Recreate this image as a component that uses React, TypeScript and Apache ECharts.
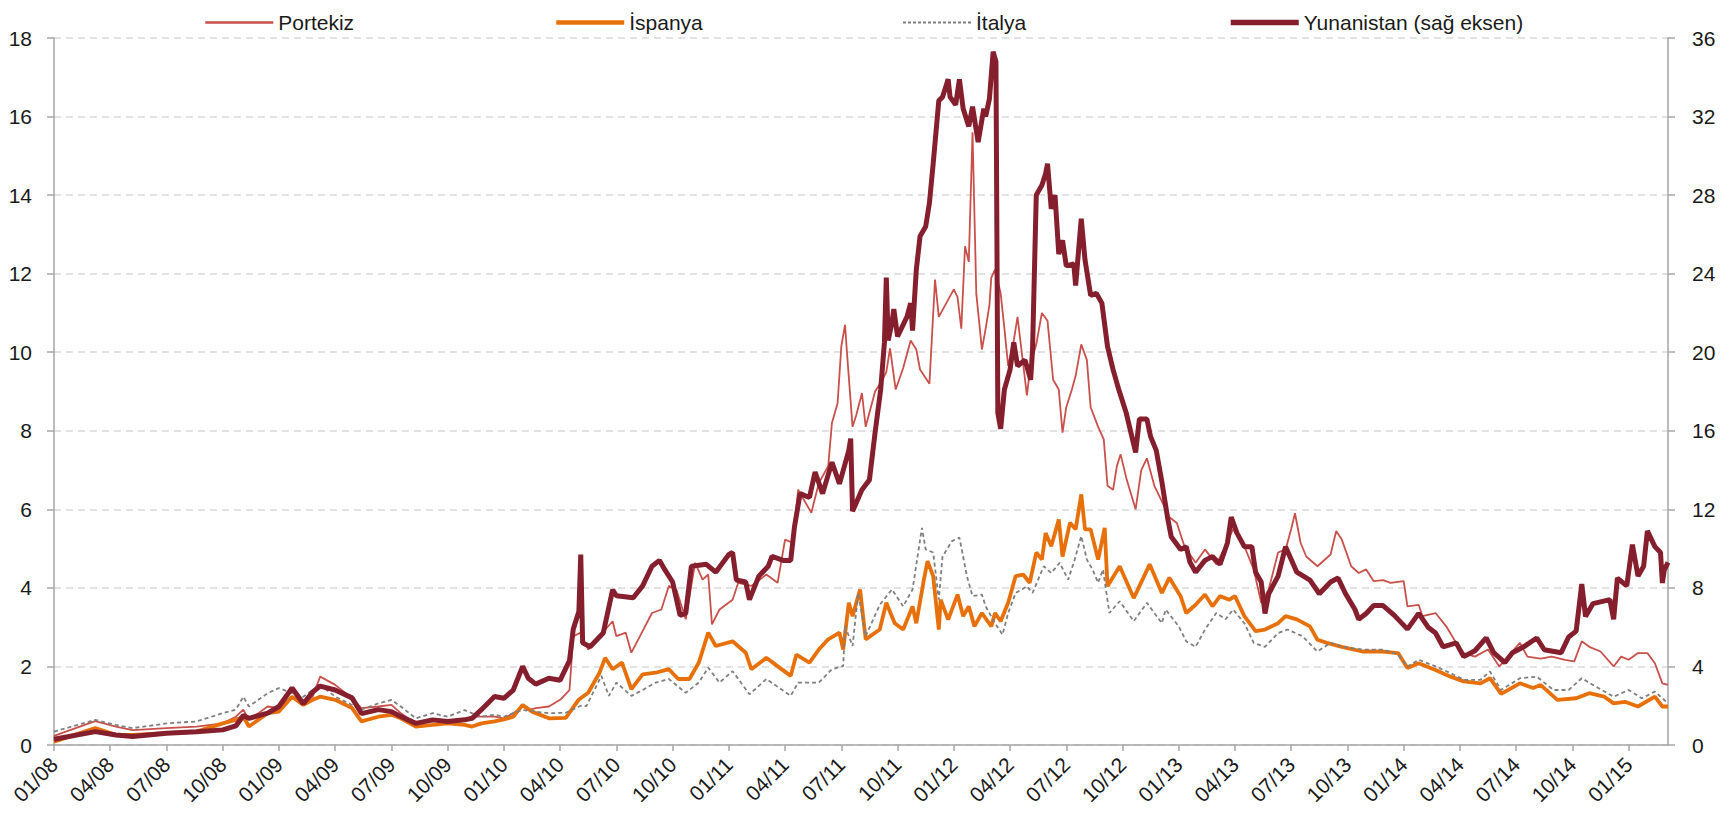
import React, { useEffect, useRef } from "react";
import * as echarts from "echarts";

// x positions are months since January 2008
const xTickLabels = ["01/08","04/08","07/08","10/08","01/09","04/09","07/09","10/09","01/10","04/10","07/10","10/10","01/11","04/11","07/11","10/11","01/12","04/12","07/12","10/12","01/13","04/13","07/13","10/13","01/14","04/14","07/14","10/14","01/15"];

const ptT = [0,2.2,3.3,4.2,6,7.6,9,9.7,10.1,10.4,11.4,12,12.7,13.3,13.8,14.2,15,15.9,16.4,17.3,18,18.5,19.3,20.2,21,21.9,22.3,22.8,23.5,24,24.5,25,25.3,25.7,26.4,27,27.5,27.7,28.1,28.5,29.1,29.8,30,30.5,30.8,31.4,31.9,32.4,32.8,33.2,33.7,34.2,34.6,34.9,35.1,35.5,36.2,36.5,37.2,38,38.6,39,39.4,39.7,40.4,40.8,41.3,41.5,41.8,42,42.2,42.3,42.6,42.8,43.1,43.3,43.8,44.2,44.4,44.6,44.9,45.3,45.7,46,46.2,46.7,47,47.2,47.6,48,48.2,48.4,48.6,48.8,49,49.2,49.5,49.7,49.9,50,50.2,50.5,50.7,50.9,51.2,51.4,51.7,51.9,52.1,52.4,52.7,53,53.3,53.6,53.8,54,54.3,54.5,54.8,55.1,55.3,55.7,56,56.2,56.5,56.7,56.9,57.2,57.7,58,58.3,58.7,59.1,59.5,59.9,60.3,60.9,61.4,62,62.5,62.9,63.5,64,64.4,64.8,65.3,65.7,66,66.2,66.5,66.8,67.4,68.1,68.4,68.7,69.2,69.6,70,70.4,70.9,71.3,72,72.2,72.8,73,73.7,74.3,74.8,75.2,75.8,76.5,77.1,78.2,78.6,79.3,79.9,80.6,81.1,81.5,81.9,82.5,83.2,83.6,84,84.5,85,85.4,85.8,86.1];
const ptV = [0.23,0.61,0.47,0.38,0.43,0.47,0.55,0.72,0.9,0.64,0.98,0.94,1.23,1.1,1.23,1.74,1.53,1.19,0.94,0.98,1.02,0.81,0.55,0.6,0.64,0.64,0.72,0.72,0.72,0.68,0.81,0.98,0.89,0.94,0.98,1.15,1.4,2.77,2.86,2.43,2.77,3.15,2.77,2.86,2.35,2.9,3.36,3.45,4.05,3.96,3.2,4.64,4.21,4.34,3.07,3.45,3.7,4.13,4.05,4.34,4.13,5.23,5.15,6.5,5.91,6.67,7.1,8.2,8.7,10.15,10.7,10.0,8.1,8.4,8.96,8.1,9.0,9.3,9.5,10.1,9.05,9.6,10.3,10.07,9.56,9.2,11.85,10.9,11.25,11.6,11.4,10.6,12.7,12.3,15.6,11.5,10.07,10.6,11.2,11.9,12.1,11.5,10.6,9.65,10.3,10.9,9.7,8.9,9.7,10.2,11.0,10.8,9.3,9.05,7.95,8.6,9.05,9.4,10.2,9.8,8.6,8.1,7.78,6.6,6.5,7.1,7.4,6.8,6.0,7.0,7.3,6.6,6.2,5.8,5.65,5.06,4.64,4.98,4.6,5.06,5.5,5.06,4.47,3.62,3.96,4.9,4.98,5.5,5.9,5.15,4.8,4.55,4.85,5.45,5.23,4.55,4.38,4.47,4.17,4.2,4.13,4.17,3.53,3.57,3.28,3.36,3.0,2.6,2.34,2.25,2.43,2.0,2.6,2.25,2.2,2.25,2.17,2.13,2.64,2.5,2.38,2.0,2.25,2.17,2.34,2.34,2.08,1.57,1.53];

const esT = [0,2.2,3.3,4.2,6,7.6,9,9.7,10.1,10.4,11.4,12,12.7,13.3,13.8,14.2,15,15.9,16.4,17.3,18,18.5,19.3,20.2,21,21.9,22.3,22.8,23.5,24,24.5,25,25.5,26.4,27.3,28,28.5,29.1,29.4,29.8,30.3,30.8,31.4,32.1,32.8,33.3,33.9,34.4,34.9,35.3,36.2,36.9,37.2,38,38.7,39.3,39.6,40.3,40.8,41.3,41.9,42.1,42.4,42.6,43,43.3,44.05,44.4,44.85,45.3,45.8,46,46.4,46.6,46.9,47.2,47.3,47.7,48.2,48.5,48.8,49.1,49.5,50,50.2,50.5,50.9,51.3,51.7,52.05,52.4,52.7,52.9,53.2,53.6,53.8,54.2,54.5,54.8,55,55.3,55.7,56.05,56.2,56.85,57.6,58.45,59.1,59.5,60.1,60.4,60.9,61.4,61.8,62.2,62.7,63,63.5,64.1,64.6,65.3,65.7,66.3,67,67.4,67.9,68.7,69.8,70.9,71.7,72.2,72.8,73.7,74.5,75.2,76.1,76.6,77.2,78.2,78.9,79.3,80.2,81.2,81.9,82.7,83.2,83.8,84.5,85.4,85.8,86.1];
const esV = [0.085,0.43,0.26,0.26,0.3,0.34,0.55,0.64,0.72,0.47,0.81,0.85,1.23,1.02,1.15,1.23,1.15,0.94,0.6,0.72,0.77,0.68,0.47,0.51,0.55,0.51,0.47,0.55,0.6,0.65,0.72,1.02,0.85,0.68,0.69,1.16,1.33,1.84,2.22,1.93,2.1,1.42,1.8,1.84,1.93,1.68,1.68,2.1,2.86,2.52,2.64,2.35,1.93,2.22,1.97,1.76,2.3,2.1,2.43,2.69,2.86,2.43,3.62,3.28,3.96,2.69,2.94,3.62,3.1,2.94,3.53,3.1,4.2,4.68,4.3,2.94,3.7,3.19,3.83,3.28,3.53,3.02,3.36,3.02,3.36,3.15,3.62,4.3,4.34,4.13,4.9,4.72,5.4,5.06,5.74,4.8,5.66,5.49,6.38,5.49,5.49,4.72,5.53,4.04,4.55,3.74,4.6,3.87,4.26,3.79,3.36,3.57,3.83,3.53,3.79,3.7,3.79,3.28,2.9,2.94,3.1,3.28,3.2,3.02,2.68,2.6,2.5,2.38,2.38,2.34,1.96,2.08,1.91,1.74,1.62,1.57,1.7,1.3,1.57,1.45,1.53,1.15,1.19,1.32,1.23,1.06,1.1,0.98,1.23,0.98,0.98];

const itT = [0,2.2,3.3,4.2,6,7.6,9,9.7,10.1,10.4,11.4,12,12.7,13.3,13.8,14.2,15,15.9,16.4,17.3,18,18.5,19.3,20.2,21,21.9,22.3,22.8,23.5,24,24.5,25,25.7,26.4,27.3,28.1,28.4,29.2,29.6,30,30.8,31.4,32.1,32.8,33.7,34.4,34.9,35.5,36.2,37.1,38,39.3,39.7,40.8,41.5,42.1,42.2,42.6,42.9,43.3,44.05,44.7,45.3,45.8,46.3,46.5,46.9,47.2,47.4,47.9,48.3,48.7,49,49.5,49.7,50.2,50.6,50.9,51.3,51.9,52.2,52.8,53.2,53.65,54.1,54.45,54.8,55.1,55.4,55.7,55.96,56.3,56.85,57.6,58.3,59.1,59.3,60,60.4,60.9,61.4,62,62.5,62.9,63.5,64,64.6,65.3,65.8,66.6,67.4,68.1,68.7,69.8,70.9,71.7,72.2,72.8,73.7,74.5,75.2,76.1,76.6,77.2,78.2,79.1,80,80.8,81.5,82.1,83.2,84,84.7,85.4,86.1];
const itV = [0.34,0.64,0.51,0.43,0.55,0.6,0.81,0.9,1.23,0.98,1.32,1.45,1.32,1.23,1.4,1.53,1.23,1.02,0.9,1.06,1.15,0.98,0.68,0.81,0.72,0.89,0.81,0.72,0.77,0.72,0.81,0.89,0.85,0.81,0.82,1.0,0.99,1.76,1.25,1.59,1.25,1.4,1.59,1.68,1.33,1.59,1.97,1.59,1.88,1.29,1.68,1.25,1.59,1.59,1.93,2.01,3.03,2.52,3.87,2.77,3.57,3.96,3.53,3.96,5.53,4.98,4.9,3.7,4.8,5.19,5.28,4.3,3.79,3.83,3.53,3.1,2.81,3.36,3.87,4.04,3.87,4.55,4.38,4.64,4.21,4.72,5.32,4.72,4.47,4.13,4.47,3.36,3.66,3.15,3.62,3.1,3.45,3.02,2.64,2.5,2.94,3.36,3.2,3.45,3.1,2.6,2.5,2.85,2.94,2.77,2.38,2.6,2.5,2.43,2.43,2.3,2.0,2.17,2.0,1.83,1.66,1.66,1.87,1.4,1.7,1.74,1.4,1.4,1.7,1.53,1.23,1.4,1.19,1.36,1.06];

const grT = [0,2.2,3.3,4.2,6,7.6,9,9.7,10.1,10.4,11.4,12,12.7,13.3,13.8,14.2,15,15.9,16.4,17.3,18,18.5,19.3,20.2,21,21.9,22.3,22.8,23.5,24,24.5,25,25.3,25.7,26.4,27,27.5,27.7,28,28.1,28.2,28.6,29.3,29.8,30,30.9,31.4,31.9,32.3,32.6,33,33.4,33.7,34,34.8,35.3,36,36.2,36.4,36.9,37.1,37.6,38.1,38.3,38.9,39.3,39.5,39.8,40.3,40.6,41,41.5,41.9,42.4,42.5,42.6,43.1,43.5,43.8,44.1,44.3,44.4,44.5,44.7,44.8,45,45.5,45.7,45.8,46,46.2,46.5,46.7,46.9,47.2,47.4,47.7,47.8,48.1,48.3,48.5,48.8,49,49.3,49.6,49.7,49.9,50.1,50.25,50.35,50.5,50.7,51,51.2,51.4,51.8,52.1,52.2,52.4,52.7,52.9,53,53.2,53.4,53.6,53.8,54,54.4,54.5,54.8,55,55.3,55.6,55.9,56.2,56.5,56.8,57.2,57.7,57.9,58.3,58.5,58.8,59.1,59.4,59.6,60.1,60.4,60.6,60.9,61.4,61.8,62.2,62.6,62.8,63.1,63.5,63.9,64.1,64.4,64.6,64.8,65.3,65.7,66,66.3,67,67.5,68.1,68.5,68.9,69.4,69.6,70,70.4,70.9,71.5,72.2,72.8,73.3,73.7,74.1,74.8,75.2,75.8,76.4,76.8,77.4,77.8,78.4,79.1,79.5,80.4,80.8,81.2,81.5,81.7,82.1,83,83.2,83.4,83.9,84.2,84.5,84.8,85,85.4,85.7,85.8,85.9,86.1];
const grV = [0.29,0.68,0.51,0.43,0.6,0.68,0.77,0.97,1.5,1.36,1.62,1.96,2.9,2.1,2.7,3.0,2.8,2.4,1.6,1.8,1.7,1.45,1.1,1.28,1.2,1.28,1.36,1.8,2.47,2.38,2.8,4.0,3.4,3.1,3.4,3.3,4.3,5.9,6.8,9.7,5.2,5.0,5.7,7.9,7.6,7.5,8.1,9.1,9.4,8.9,8.3,6.6,6.7,9.1,9.2,8.8,9.7,9.8,8.4,8.3,7.4,8.6,9.1,9.6,9.4,9.4,11.1,12.8,12.6,13.9,12.8,14.4,13.3,15.0,15.6,11.9,13.0,13.5,15.9,18.1,20.5,23.8,20.6,21.5,22.2,20.8,21.8,22.5,21.1,24.2,25.9,26.4,27.6,29.6,32.8,33.0,33.9,33.0,32.6,33.9,32.4,31.5,32.5,30.7,32.4,32.0,32.9,35.3,34.8,16.9,16.1,18.1,19.1,20.5,19.3,19.6,18.6,20.1,28.0,28.5,29.1,29.6,27.3,28.0,25.0,25.7,24.4,24.5,23.4,26.8,24.7,22.9,23.0,22.5,20.3,19.1,18.1,16.9,14.9,16.6,16.6,15.7,15.0,13.4,11.6,10.6,9.96,10.1,9.3,8.8,9.4,9.6,9.2,10.3,11.6,10.8,10.1,10.1,8.8,8.3,6.7,7.7,8.6,10.1,9.45,8.8,8.4,7.7,8.3,8.5,7.7,6.9,6.4,6.7,7.1,7.1,6.6,5.9,6.7,6.0,5.7,5.0,5.2,4.5,4.8,5.45,4.7,4.2,4.7,5.0,5.45,4.85,4.7,5.5,5.8,8.2,6.55,7.2,7.4,6.4,8.5,8.1,10.2,8.6,9.1,10.9,10.1,9.8,8.25,8.9,9.3];

const seriesNames = ["Portekiz", "İspanya", "İtalya", "Yunanistan (sağ eksen)"];

const zip = (t: number[], v: number[]) => t.map((x, i) => [x, v[i]]);

export default function App() {
  const ref = useRef<HTMLDivElement>(null);
  useEffect(() => {
    if (!ref.current) return;
    const chart = echarts.init(ref.current, null, { renderer: "svg" });
    const font = "'Liberation Sans', Arial, sans-serif";
    const tickVals = xTickLabels.map((_, i) => i * 3);
    const axisGray = "#A6A6A6";
    const legendBase = {
      top: 7,
      itemWidth: 68,
      itemHeight: 20,
      itemGap: 6,
      itemStyle: { opacity: 0, color: "rgba(0,0,0,0)", borderWidth: 0 },
      textStyle: { fontFamily: font, fontSize: 21, color: "#1a1a1a" },
    };
    chart.setOption({
      animation: false,
      backgroundColor: "#ffffff",
      textStyle: { fontFamily: font },
      legend: [
        { ...legendBase, left: 199, data: [seriesNames[0]], lineStyle: { width: 2.5 } },
        { ...legendBase, left: 549, data: [seriesNames[1]], lineStyle: { width: 4.5 } },
        { ...legendBase, left: 897, data: [seriesNames[2]], lineStyle: { width: 2, type: [3, 2] } },
        { ...legendBase, left: 1223, data: [seriesNames[3]], lineStyle: { width: 5.5 } },
      ],
      grid: { left: 54, right: 66, top: 38, bottom: 77, containLabel: false },
      xAxis: {
        type: "value",
        min: 0,
        max: 86.1,
        interval: 3,
        axisLine: { show: true, lineStyle: { color: axisGray, width: 1.5 } },
        axisTick: { show: true, length: 6, lineStyle: { color: axisGray, width: 1.5 }, customValues: tickVals },
        axisLabel: {
          rotate: 45,
          fontSize: 21,
          fontFamily: font,
          color: "#1a1a1a",
          margin: 16,
          customValues: tickVals,
          formatter: (v: number) => {
            const k = Math.round(v / 3);
            return Math.abs(v - k * 3) < 1e-6 && xTickLabels[k] ? xTickLabels[k] : "";
          },
        },
        splitLine: { show: false },
      },
      yAxis: [
        {
          type: "value",
          min: 0,
          max: 18,
          interval: 2,
          position: "left",
          axisLine: { show: true, lineStyle: { color: axisGray, width: 1.5 } },
          axisTick: { show: true, length: 7, lineStyle: { color: axisGray, width: 1.5 } },
          axisLabel: { fontSize: 21, fontFamily: font, color: "#1a1a1a", margin: 22 },
          splitLine: { show: true, lineStyle: { color: "#D9D9D9", width: 1.5, type: [7, 5] } },
        },
        {
          type: "value",
          min: 0,
          max: 36,
          interval: 4,
          position: "right",
          axisLine: { show: true, lineStyle: { color: axisGray, width: 1.5 } },
          axisTick: { show: true, length: 7, lineStyle: { color: axisGray, width: 1.5 } },
          axisLabel: { fontSize: 21, fontFamily: font, color: "#1a1a1a", margin: 24 },
          splitLine: { show: false },
        },
      ],
      series: [
        {
          name: seriesNames[0],
          type: "line",
          data: zip(ptT, ptV),
          symbol: "none",
          lineStyle: { color: "#C9504B", width: 1.8 },
          itemStyle: { color: "#C9504B" },
          z: 2,
        },
        {
          name: seriesNames[1],
          type: "line",
          data: zip(esT, esV),
          symbol: "none",
          lineStyle: { color: "#E8700A", width: 3.8 },
          itemStyle: { color: "#E8700A" },
          z: 3,
        },
        {
          name: seriesNames[2],
          type: "line",
          data: zip(itT, itV),
          symbol: "none",
          lineStyle: { color: "#7F7F7F", width: 1.8, type: [4, 3] },
          itemStyle: { color: "#7F7F7F" },
          z: 4,
        },
        {
          name: seriesNames[3],
          type: "line",
          yAxisIndex: 1,
          data: zip(grT, grV),
          symbol: "none",
          lineStyle: { color: "#861F2D", width: 5 },
          itemStyle: { color: "#861F2D" },
          z: 5,
        },
      ],
    });
    return () => chart.dispose();
  }, []);
  return <div ref={ref} style={{ width: 1734, height: 822, marginLeft: -8, marginTop: -8 }} />;
}
